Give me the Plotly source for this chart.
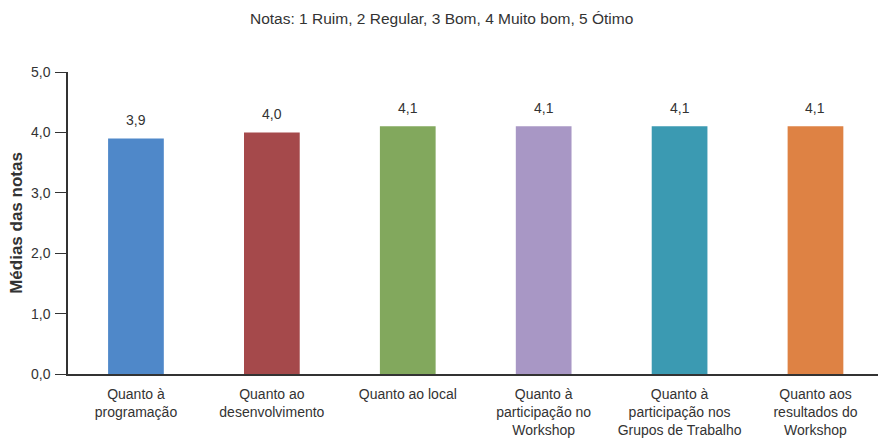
import plotly.graph_objects as go

categories = [
    "Quanto à<br>programação",
    "Quanto ao<br>desenvolvimento",
    "Quanto ao local",
    "Quanto à<br>participação no<br>Workshop",
    "Quanto à<br>participação nos<br>Grupos de Trabalho",
    "Quanto aos<br>resultados do<br>Workshop",
]
values = [3.9, 4.0, 4.1, 4.1, 4.1, 4.1]
bar_colors = ["#4F88C9", "#A5494B", "#82A85D", "#A897C5", "#3B9AB2", "#DE8244"]
y_ticks = [0, 1, 2, 3, 4, 5]
y_tick_labels = ["0,0", "1,0", "2,0", "3,0", "4,0", "5,0"]

font_family = "Liberation Sans, Arial, sans-serif"
text_color = "#333333"
x_pos = list(range(len(categories)))

fig = go.Figure(
    go.Bar(
        x=x_pos,
        y=values,
        marker=dict(color=bar_colors, line=dict(width=0)),
        width=0.41,
        cliponaxis=False,
    )
)

# value labels above each bar
for xi, v in zip(x_pos, values):
    fig.add_annotation(
        x=xi,
        y=v,
        text=f"{v:.1f}".replace(".", ","),
        showarrow=False,
        yanchor="bottom",
        yshift=8,
        font=dict(size=14, color=text_color, family=font_family),
    )

fig.update_layout(
    width=878,
    height=438,
    margin=dict(l=68, r=0, t=72, b=64),
    paper_bgcolor="white",
    plot_bgcolor="white",
    showlegend=False,
    font=dict(family=font_family, size=14, color=text_color),
    title=dict(
        text="Notas: 1 Ruim, 2 Regular, 3 Bom, 4 Muito bom, 5 Ótimo",
        x=0.503,
        xanchor="center",
        y=0.958,
        yanchor="middle",
        font=dict(size=15.5, color=text_color, family=font_family),
    ),
    xaxis=dict(
        range=[-0.5, 5.46],
        tickmode="array",
        tickvals=x_pos,
        ticktext=categories,
        showgrid=False,
        zeroline=False,
        showline=True,
        linecolor="#333333",
        linewidth=1.5,
        ticks="",
        ticklabelstandoff=6,
        tickfont=dict(size=14, color=text_color, family=font_family),
    ),
    yaxis=dict(
        range=[0, 5],
        tickmode="array",
        tickvals=y_ticks,
        ticktext=y_tick_labels,
        showgrid=False,
        zeroline=False,
        showline=True,
        linecolor="#333333",
        linewidth=1.5,
        ticks="outside",
        ticklen=11,
        tickwidth=1.2,
        tickcolor="#333333",
        ticklabelstandoff=2,
        tickfont=dict(size=14, color=text_color, family=font_family),
        title=dict(
            text="<b>Médias das notas</b>",
            font=dict(size=17, color=text_color, family=font_family),
            standoff=4,
        ),
    ),
)

fig.write_html("out.html")
